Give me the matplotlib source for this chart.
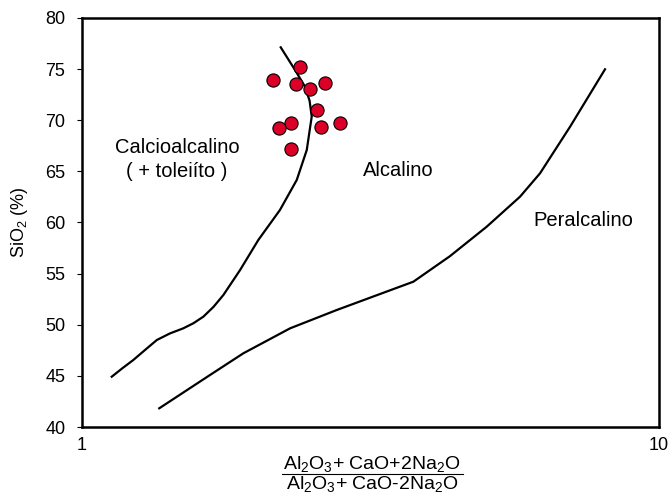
import numpy as np
import matplotlib
matplotlib.use('Agg')
import matplotlib.pyplot as plt
from matplotlib.lines import Line2D

plt.rcParams['font.family'] = ['Liberation Sans', 'DejaVu Sans']
plt.rcParams['mathtext.fontset'] = 'custom'
plt.rcParams['mathtext.rm'] = 'Liberation Sans'
plt.rcParams['mathtext.it'] = 'Liberation Sans'


### Data
# calc-alkaline / alkaline boundary
calc_x = [1.126, 1.175, 1.227, 1.290, 1.348, 1.420, 1.498, 1.560, 1.623, 1.690,
          1.758, 1.879, 2.021, 2.203, 2.356, 2.452, 2.491, 2.501, 2.480, 2.435,
          2.340, 2.210]
calc_y = [44.92, 45.75, 46.55, 47.60, 48.51, 49.15, 49.65, 50.15, 50.79, 51.75,
          52.91, 55.35, 58.29, 61.22, 64.16, 67.09, 69.70, 70.35, 71.90, 73.28,
          74.91, 77.13]

# alkaline / peralkaline boundary
peral_x = [1.361, 1.667, 1.904, 2.294, 2.763, 3.752, 4.340, 5.028, 5.742, 6.220,
           7.013, 8.061]
peral_y = [41.83, 45.09, 47.21, 49.65, 51.44, 54.21, 56.70, 59.59, 62.52, 64.81,
           69.37, 74.98]

# samples
sample_x = [2.387, 2.146, 2.346, 2.484, 2.637, 2.557, 2.303, 2.194, 2.593, 2.800, 2.300]
sample_y = [75.18, 73.94, 73.55, 73.06, 73.61, 71.00, 69.70, 69.21, 69.37, 69.76, 67.16]

y_ticks = [40, 45, 50, 55, 60, 65, 70, 75, 80]
x_ticks = [1, 10]


### Plot
fig = plt.figure(figsize=(6.7, 4.94), dpi=100)
ax = fig.add_axes([0.1224, 0.1356, 0.8612, 0.828])

ax.plot(calc_x, calc_y, color='black', lw=1.6)
ax.plot(peral_x, peral_y, color='black', lw=1.6)
ax.plot(sample_x, sample_y, 'o', color='#dc0028', markeredgecolor='black',
        markeredgewidth=0.8, markersize=9.5, zorder=3)

ax.set_xscale('log')
ax.set_xlim(1, 10)
ax.set_ylim(40, 80)
ax.set_xticks(x_ticks)
ax.set_xticklabels(['1', '10'])
ax.xaxis.set_minor_locator(matplotlib.ticker.NullLocator())
ax.set_yticks(y_ticks)
ax.tick_params(axis='x', length=0, pad=7, labelsize=13)
ax.tick_params(axis='y', direction='out', length=3.5, width=0.8, pad=8.5, labelsize=13)
for s in ax.spines.values():
    s.set_linewidth(1.8)

ax.text(1.461, 67.3, 'Calcioalcalino', ha='center', va='center', fontsize=14.5)
ax.text(1.461, 64.95, '( + toleiíto )', ha='center', va='center', fontsize=14.5)
ax.text(3.53, 65.1, 'Alcalino', ha='center', va='center', fontsize=14.5)
ax.text(7.38, 60.15, 'Peralcalino', ha='center', va='center', fontsize=14.5)

ax.set_ylabel('SiO$_2$ (%)', fontsize=13, labelpad=11)

# fraction as x label
cx = 372 / 670
fig.text(cx, 1 - 469 / 494, 'Al$_2$O$_3$+ CaO+2Na$_2$O', ha='center', va='baseline', fontsize=14)
fig.text(cx, 1 - 489 / 494, 'Al$_2$O$_3$+ CaO-2Na$_2$O', ha='center', va='baseline', fontsize=14)
fig.add_artist(Line2D([282 / 670, 463 / 670], [1 - 474 / 494, 1 - 474 / 494],
                      color='black', lw=0.8))

fig.savefig('out.png', dpi=100)
plt.close(fig)
